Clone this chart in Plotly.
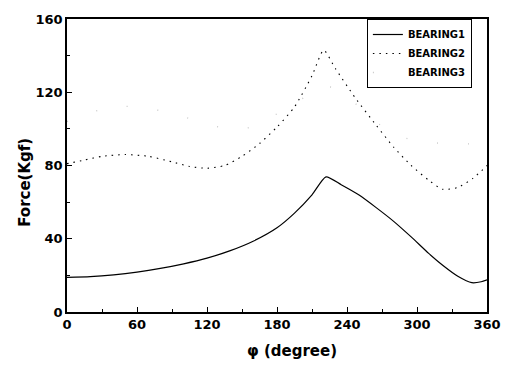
import plotly.graph_objects as go

# BEARING1
b1_deg = [0, 20, 40, 60, 80, 100, 120, 140, 160, 180, 195, 210, 222, 235, 250, 265, 280, 295, 310, 322, 335, 347, 355, 360]
b1_val = [18.9, 19.3, 20.3, 21.8, 23.8, 26.3, 29.4, 33.5, 38.8, 46, 54, 64, 73.8, 69.5, 64, 57, 49.5, 41, 32, 25.5, 19.5, 16, 16.5, 17.6]
# BEARING2
b2_deg = [0, 15, 30, 50, 70, 90, 105, 120, 135, 150, 165, 180, 195, 210, 220, 230, 247, 265, 280, 295, 310, 322, 335, 348, 360]
b2_val = [81, 83, 85, 86, 85, 82, 79.5, 78.5, 80, 85, 92, 101, 112, 129, 143, 133, 117, 102, 90, 80, 72, 67, 68, 73, 80]
# BEARING3 (very faint)
b3_deg = [0, 40, 80, 150, 200, 224, 285, 360]
b3_val = [104, 112, 110, 100, 116, 123, 96, 92]

x_ticks = [0, 60, 120, 180, 240, 300, 360]
y_ticks = [0, 40, 80, 120, 160]
x_title = "φ (degree)"
y_title = "Force(Kgf)"

FAM = "DejaVu Sans, Liberation Sans, Arial"

fig = go.Figure()
fig.add_trace(go.Scatter(x=b1_deg, y=b1_val, mode="lines", name="BEARING1",
                         line=dict(color="black", width=1.2, shape="spline", smoothing=0.6)))
fig.add_trace(go.Scatter(x=b2_deg, y=b2_val, mode="lines", name="BEARING2",
                         line=dict(color="black", width=1.1, dash="1.5px,5px", shape="spline", smoothing=0.6)))
fig.add_trace(go.Scatter(x=b3_deg, y=b3_val, mode="lines", name="BEARING3",
                         line=dict(color="#c8c8c8", width=1.3, dash="1px,30px", shape="spline")))

font_b = dict(family=FAM, size=13, color="black", weight="bold")
title_f = dict(family=FAM, size=15, color="black", weight="bold")

fig.update_layout(
    width=513, height=365,
    margin=dict(l=67, r=26, t=13, b=53),
    paper_bgcolor="white", plot_bgcolor="white",
    showlegend=True,
    legend=dict(x=0.714, y=1.0, xanchor="left", yanchor="top",
                bgcolor="white", bordercolor="black", borderwidth=1,
                font=dict(family=FAM, size=10, color="black", weight="bold"),
                tracegroupgap=0, itemwidth=30),
    xaxis=dict(range=[0, 360], tickvals=x_ticks, ticktext=[str(v) for v in x_ticks],
               ticks="inside", ticklen=5, tickcolor="black", tickwidth=1,
               minor=dict(ticks="inside", dtick=30, tick0=0, ticklen=3, tickcolor="black"),
               showline=True, linecolor="black", linewidth=1.5, mirror=True,
               showgrid=False, zeroline=False, tickfont=font_b),
    yaxis=dict(range=[0, 160], tickvals=y_ticks, ticktext=[str(v) for v in y_ticks],
               ticks="inside", ticklen=5, tickcolor="black", tickwidth=1,
               minor=dict(ticks="inside", dtick=20, tick0=0, ticklen=3, tickcolor="black"),
               showline=True, linecolor="black", linewidth=1.5, mirror=True,
               showgrid=False, zeroline=False, tickfont=font_b),
    annotations=[
        dict(text=x_title, xref="paper", yref="paper", x=0.536, y=-0.134,
             xanchor="center", yanchor="middle", showarrow=False, font=title_f),
        dict(text=y_title, xref="paper", yref="paper", x=-0.1, y=0.441,
             xanchor="center", yanchor="middle", showarrow=False, font=title_f, textangle=-90),
    ],
)

fig.write_html("out.html")
